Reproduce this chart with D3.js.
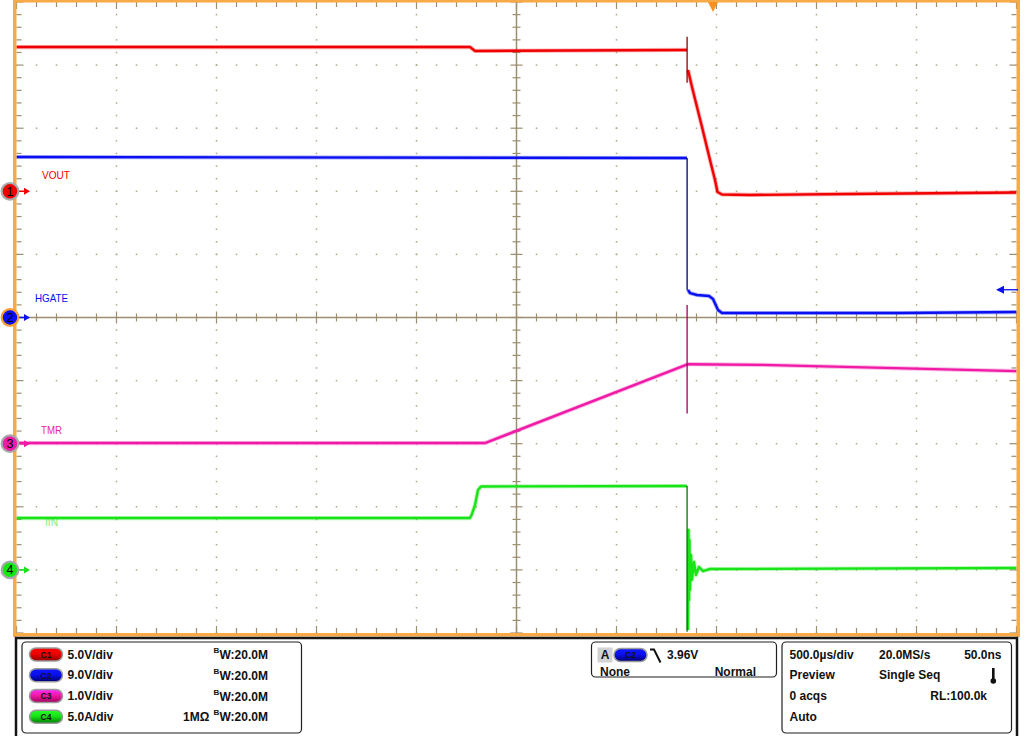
<!DOCTYPE html>
<html>
<head>
<meta charset="utf-8">
<script src="https://cdn.jsdelivr.net/npm/d3@7"></script>
<style>
  body { margin: 0; background: #fff; }
  svg { display: block; font-family: "Liberation Sans", Arial, sans-serif; }
</style>
</head>
<body>
<div id="chart"></div>
<script>
// ---- data (time in ms across the screen, values in channel units) ----
var voutPre  = [[0, 11.43], [2.2675, 11.43], [2.2925, 11.12], [3.3525, 11.2]];
var voutEdge = [[3.353, 12.25], [3.353, 8.6]];
var voutPost = [[3.3575, 9.61], [3.3775, 8.26], [3.4275, 5.09], [3.4675, 2.48], [3.4925, 0.9],
                [3.505, -0.06], [3.5275, -0.25], [3.6675, -0.29], [4.1675, -0.21], [5, -0.1]];

var hgatePre  = [[0, 22.89], [3.3525, 22.75]];
var hgateEdge = [[3.353, 22.75], [3.353, 3.9]];
var hgatePost = [[3.3575, 3.92], [3.3675, 3.49], [3.4025, 3.21], [3.4625, 3.07], [3.4825, 2.64],
                 [3.5075, 1.07], [3.5275, 0.64], [4.4175, 0.64], [5, 0.78]];

var tmrPre  = [[0, 0.01], [2.3425, 0.01], [3.3575, 1.26]];
var tmrEdge = [[3.353, 2.2], [3.353, 0.48]];
var tmrPost = [[3.3575, 1.26], [3.7175, 1.25], [5, 1.15]];

var iinPre  = [[0, 4.11], [2.2675, 4.11], [2.2775, 4.43], [2.2925, 5.14], [2.3075, 6.33],
               [2.3225, 6.61], [3.3525, 6.65]];
var iinEdge = [[3.353, 6.65], [3.353, -4.9]];
var iinPost = [[3.3575, -4.76], [3.36, 3.16], [3.3625, -2.39], [3.365, 2.37], [3.3675, -1.59],
               [3.3725, 1.18], [3.3775, -0.79], [3.3875, 0.63], [3.3975, -0.4], [3.4125, 0.23],
               [3.4325, -0.09], [3.4675, 0.07], [5, 0.15]];

var chNames   = ["VOUT", "HGATE", "TMR", "IIN"];
var chScales  = [5.0, 9.0, 1.0, 5.0];      // units per division
var chOffsets = [2, 0, -2, -4];            // ground marker position in divisions
var chColors  = ["#f00000", "#0a10f0", "#f01aa6", "#18e418"];
var chDark    = ["#900000", "#00006e", "#a0005e", "#007a00"];
var chPill    = ["C1", "C2", "C3", "C4"];
var chDivText = ["5.0V/div", "9.0V/div", "1.0V/div", "5.0A/div"];

var trigTime = 3.4825;   // trigger position (ms)
var trigLevel = 3.96;    // V on C2

var timebaseRow = [["500.0\u00b5s/div", "20.0MS/s", "50.0ns"], ["Preview", "Single Seq", ""],
                   ["0 acqs", "", "RL:100.0k"], ["Auto", "", ""]];

// ---- layout ----
var W = 1024, H = 736;
var X0 = 16.5, X1 = 1016.5, Y0 = 2, Y1 = 633;
var gridCol = "#9c8e70", dotCol = "#b0a688", orange = "#f7aa45";

var svg = d3.select("#chart").append("svg").attr("width", W).attr("height", H);

var x = d3.scaleLinear().domain([0, 5]).range([X0, X1]);
var yDiv = d3.scaleLinear().domain([-5, 5]).range([Y1, Y0]);
var xDiv = d3.scaleLinear().domain([0, 10]).range([X0, X1]);

function yCh(ch) {
  return function(v) { return yDiv(chOffsets[ch] + v / chScales[ch]); };
}

// dotted grid
var g = svg.append("g");
var minorX = d3.range(0, 50.01, 1).map(function(d) { return d / 5; });
var minorY = d3.range(-25, 25.01, 1).map(function(d) { return d / 5; });
d3.range(1, 10).filter(function(d) { return d !== 5; }).forEach(function(i) {
  g.selectAll(null).data(minorY).enter().append("rect")
    .attr("x", xDiv(i) - 0.75).attr("y", function(d) { return yDiv(d) - 0.75; })
    .attr("width", 1.5).attr("height", 1.5).attr("fill", dotCol);
});
d3.range(-4, 5).filter(function(d) { return d !== 0; }).forEach(function(i) {
  g.selectAll(null).data(minorX).enter().append("rect")
    .attr("x", function(d) { return xDiv(d) - 0.75; }).attr("y", yDiv(i) - 0.75)
    .attr("width", 1.5).attr("height", 1.5).attr("fill", dotCol);
});

// centre axes with ticks
g.append("line").attr("x1", X0).attr("x2", X1).attr("y1", yDiv(0)).attr("y2", yDiv(0))
  .attr("stroke", gridCol).attr("stroke-width", 1.5);
g.append("line").attr("x1", xDiv(5)).attr("x2", xDiv(5)).attr("y1", Y0).attr("y2", Y1)
  .attr("stroke", gridCol).attr("stroke-width", 1.5);
minorX.forEach(function(d) {
  var big = Math.abs(d - Math.round(d)) < 1e-6;
  var h = big ? 6 : 4;
  g.append("line").attr("x1", xDiv(d)).attr("x2", xDiv(d))
    .attr("y1", yDiv(0) - h).attr("y2", yDiv(0) + h).attr("stroke", gridCol).attr("stroke-width", 1.2);
  g.append("line").attr("x1", xDiv(d)).attr("x2", xDiv(d))
    .attr("y1", Y0).attr("y2", Y0 + (big ? 7 : 5)).attr("stroke", gridCol).attr("stroke-width", 1.2);
  g.append("line").attr("x1", xDiv(d)).attr("x2", xDiv(d))
    .attr("y1", Y1).attr("y2", Y1 - (big ? 7 : 5)).attr("stroke", gridCol).attr("stroke-width", 1.2);
});
minorY.forEach(function(d) {
  var big = Math.abs(d - Math.round(d)) < 1e-6;
  var h = big ? 6 : 4;
  g.append("line").attr("y1", yDiv(d)).attr("y2", yDiv(d))
    .attr("x1", xDiv(5) - h).attr("x2", xDiv(5) + h).attr("stroke", gridCol).attr("stroke-width", 1.2);
  g.append("line").attr("y1", yDiv(d)).attr("y2", yDiv(d))
    .attr("x1", X0).attr("x2", X0 + (big ? 7 : 5)).attr("stroke", gridCol).attr("stroke-width", 1.2);
  g.append("line").attr("y1", yDiv(d)).attr("y2", yDiv(d))
    .attr("x1", X1).attr("x2", X1 - (big ? 7 : 5)).attr("stroke", gridCol).attr("stroke-width", 1.2);
});

// channel name labels (behind traces)
var labelPos = [[42, 179, 28], [35, 301.5, 33], [41, 434, 21], [45, 526, 13]];
chNames.forEach(function(n, i) {
  svg.append("text").attr("x", labelPos[i][0]).attr("y", labelPos[i][1])
    .attr("font-size", 11.5).attr("fill", i === 3 ? "#7cf07c" : chColors[i])
    .attr("textLength", labelPos[i][2]).attr("lengthAdjust", "spacingAndGlyphs")
    .text(n);
});

// traces
var traces = [[voutPre, voutEdge, voutPost], [hgatePre, hgateEdge, hgatePost],
              [tmrPre, tmrEdge, tmrPost], [iinPre, iinEdge, iinPost]];
var tg = svg.append("g").attr("stroke-linejoin", "round").attr("fill", "none");
traces.forEach(function(parts, i) {
  var line = d3.line().x(function(d) { return x(d[0]); }).y(function(d) { return yCh(i)(d[1]); });
  [parts[0], parts[2]].forEach(function(p) {
    tg.append("path").attr("d", line(p)).attr("stroke", chColors[i])
      .attr("stroke-width", 4.2).attr("stroke-opacity", 0.3);
    tg.append("path").attr("d", line(p)).attr("stroke", chColors[i]).attr("stroke-width", 2.4);
  });
  tg.append("path").attr("d", line(parts[1])).attr("stroke", chDark[i]).attr("stroke-width", 1.3);
});

// orange frame
svg.append("rect").attr("x", 13).attr("y", 0).attr("width", 3.5).attr("height", 637).attr("fill", orange);
svg.append("rect").attr("x", 1016.5).attr("y", 0).attr("width", 3.5).attr("height", 637).attr("fill", orange);
svg.append("rect").attr("x", 13).attr("y", 0).attr("width", 1007).attr("height", 2.5).attr("fill", orange);
svg.append("rect").attr("x", 13).attr("y", 633).attr("width", 1007).attr("height", 3.5).attr("fill", orange);

// trigger position marker
var tx = x(trigTime);
svg.append("path").attr("d", "M" + (tx - 5) + ",2 L" + (tx + 5) + ",2 L" + tx + ",12 Z").attr("fill", "#f7901e");

// trigger level arrow (C2)
var ty = yCh(1)(trigLevel);
svg.append("line").attr("x1", 1003).attr("x2", 1018).attr("y1", ty).attr("y2", ty)
  .attr("stroke", chColors[1]).attr("stroke-width", 1.3);
svg.append("path").attr("d", "M996," + ty + " L1004," + (ty - 4) + " L1004," + (ty + 4) + " Z")
  .attr("fill", chColors[1]);

// channel ground markers
chOffsets.forEach(function(o, i) {
  var yy = yDiv(o);
  svg.append("line").attr("x1", 17).attr("x2", 26).attr("y1", yy).attr("y2", yy)
    .attr("stroke", chColors[i]).attr("stroke-width", 1.5);
  svg.append("path").attr("d", "M24," + (yy - 3.5) + " L30," + yy + " L24," + (yy + 3.5) + " Z")
    .attr("fill", chColors[i]);
  svg.append("circle").attr("cx", 10).attr("cy", yy).attr("r", 8.3)
    .attr("fill", chColors[i]).attr("stroke", i === 1 ? "#f7a030" : "#a8a8a8").attr("stroke-width", 2.2);
  svg.append("text").attr("x", 10).attr("y", yy + 4.5).attr("text-anchor", "middle")
    .attr("font-size", 12.5).attr("fill", "#000").text(String(i + 1));
});

// ---- info panel ----
svg.append("rect").attr("x", 16).attr("y", 638).attr("width", 1001).attr("height", 100)
  .attr("fill", "#fff").attr("stroke", "#151515").attr("stroke-width", 2.5);
function box(x0, y0, w, h) {
  svg.append("rect").attr("x", x0).attr("y", y0).attr("width", w).attr("height", h).attr("rx", 4)
    .attr("fill", "#fff").attr("stroke", "#202020").attr("stroke-width", 1.2);
}
box(22, 642, 279.5, 91);
box(591.5, 642, 185, 35);
box(782, 642, 229.5, 91);

var defs = svg.append("defs");
function pill(px, py, i) {
  var id = "pg" + i + "_" + Math.round(px);
  var gr = defs.append("linearGradient").attr("id", id).attr("x1", 0).attr("x2", 0).attr("y1", 0).attr("y2", 1);
  gr.append("stop").attr("offset", "0%").attr("stop-color", d3.color(chColors[i]).brighter(1.2));
  gr.append("stop").attr("offset", "45%").attr("stop-color", chColors[i]);
  gr.append("stop").attr("offset", "100%").attr("stop-color", chDark[i]);
  svg.append("rect").attr("x", px).attr("y", py).attr("width", 33).attr("height", 13).attr("rx", 6.5)
    .attr("fill", "url(#" + id + ")").attr("stroke", "#9a9a9a").attr("stroke-width", 1.5);
  svg.append("text").attr("x", px + 16.5).attr("y", py + 9.8).attr("text-anchor", "middle")
    .attr("font-size", 8.5).attr("font-weight", "bold").attr("fill", "#111").text(chPill[i]);
}

var rowBase = [658.5, 679.2, 700, 720.8];
var bold = { "font-size": 12, "font-weight": "bold", "fill": "#111" };
function txt(x0, y0, s, anchor) {
  var t = svg.append("text").attr("x", x0).attr("y", y0).attr("text-anchor", anchor || "start");
  Object.keys(bold).forEach(function(k) { t.attr(k, bold[k]); });
  return t.text(s);
}
chPill.forEach(function(p, i) {
  pill(29.5, rowBase[i] - 10.5, i);
  txt(67.5, rowBase[i], chDivText[i]);
  svg.append("text").attr("x", 213.5).attr("y", rowBase[i] - 5.5)
    .attr("font-size", 8).attr("font-weight", "bold").attr("fill", "#111").text("B");
  txt(219.5, rowBase[i] + 0.5, "W:20.0M");
});
txt(183, rowBase[3], "1M\u03a9");

// trigger box
svg.append("rect").attr("x", 597.5).attr("y", 647.5).attr("width", 15).attr("height", 15).attr("fill", "#d2d2d2");
txt(605, 659, "A", "middle");
pill(614, 648.5, 1);
svg.append("path").attr("d", "M650,649.5 L654,649.5 L660.5,662.5").attr("fill", "none")
  .attr("stroke", "#111").attr("stroke-width", 2);
txt(667, 659, trigLevel.toFixed(2) + "V");
txt(600, 676, "None");
txt(756, 676, "Normal", "end");

// timebase box
var colX = [789.5, 879, 1001.5];
timebaseRow.forEach(function(r, i) {
  if (r[0]) txt(colX[0], rowBase[i], r[0]);
  if (r[1]) txt(colX[1], rowBase[i], r[1]);
  if (r[2]) txt(i === 2 ? 987 : colX[2], rowBase[i], r[2], "end");
});
svg.append("rect").attr("x", 992).attr("y", 668).attr("width", 2.6).attr("height", 12).attr("fill", "#111");
svg.append("circle").attr("cx", 993.3).attr("cy", 681).attr("r", 2.8).attr("fill", "#111");
</script>
</body>
</html>
